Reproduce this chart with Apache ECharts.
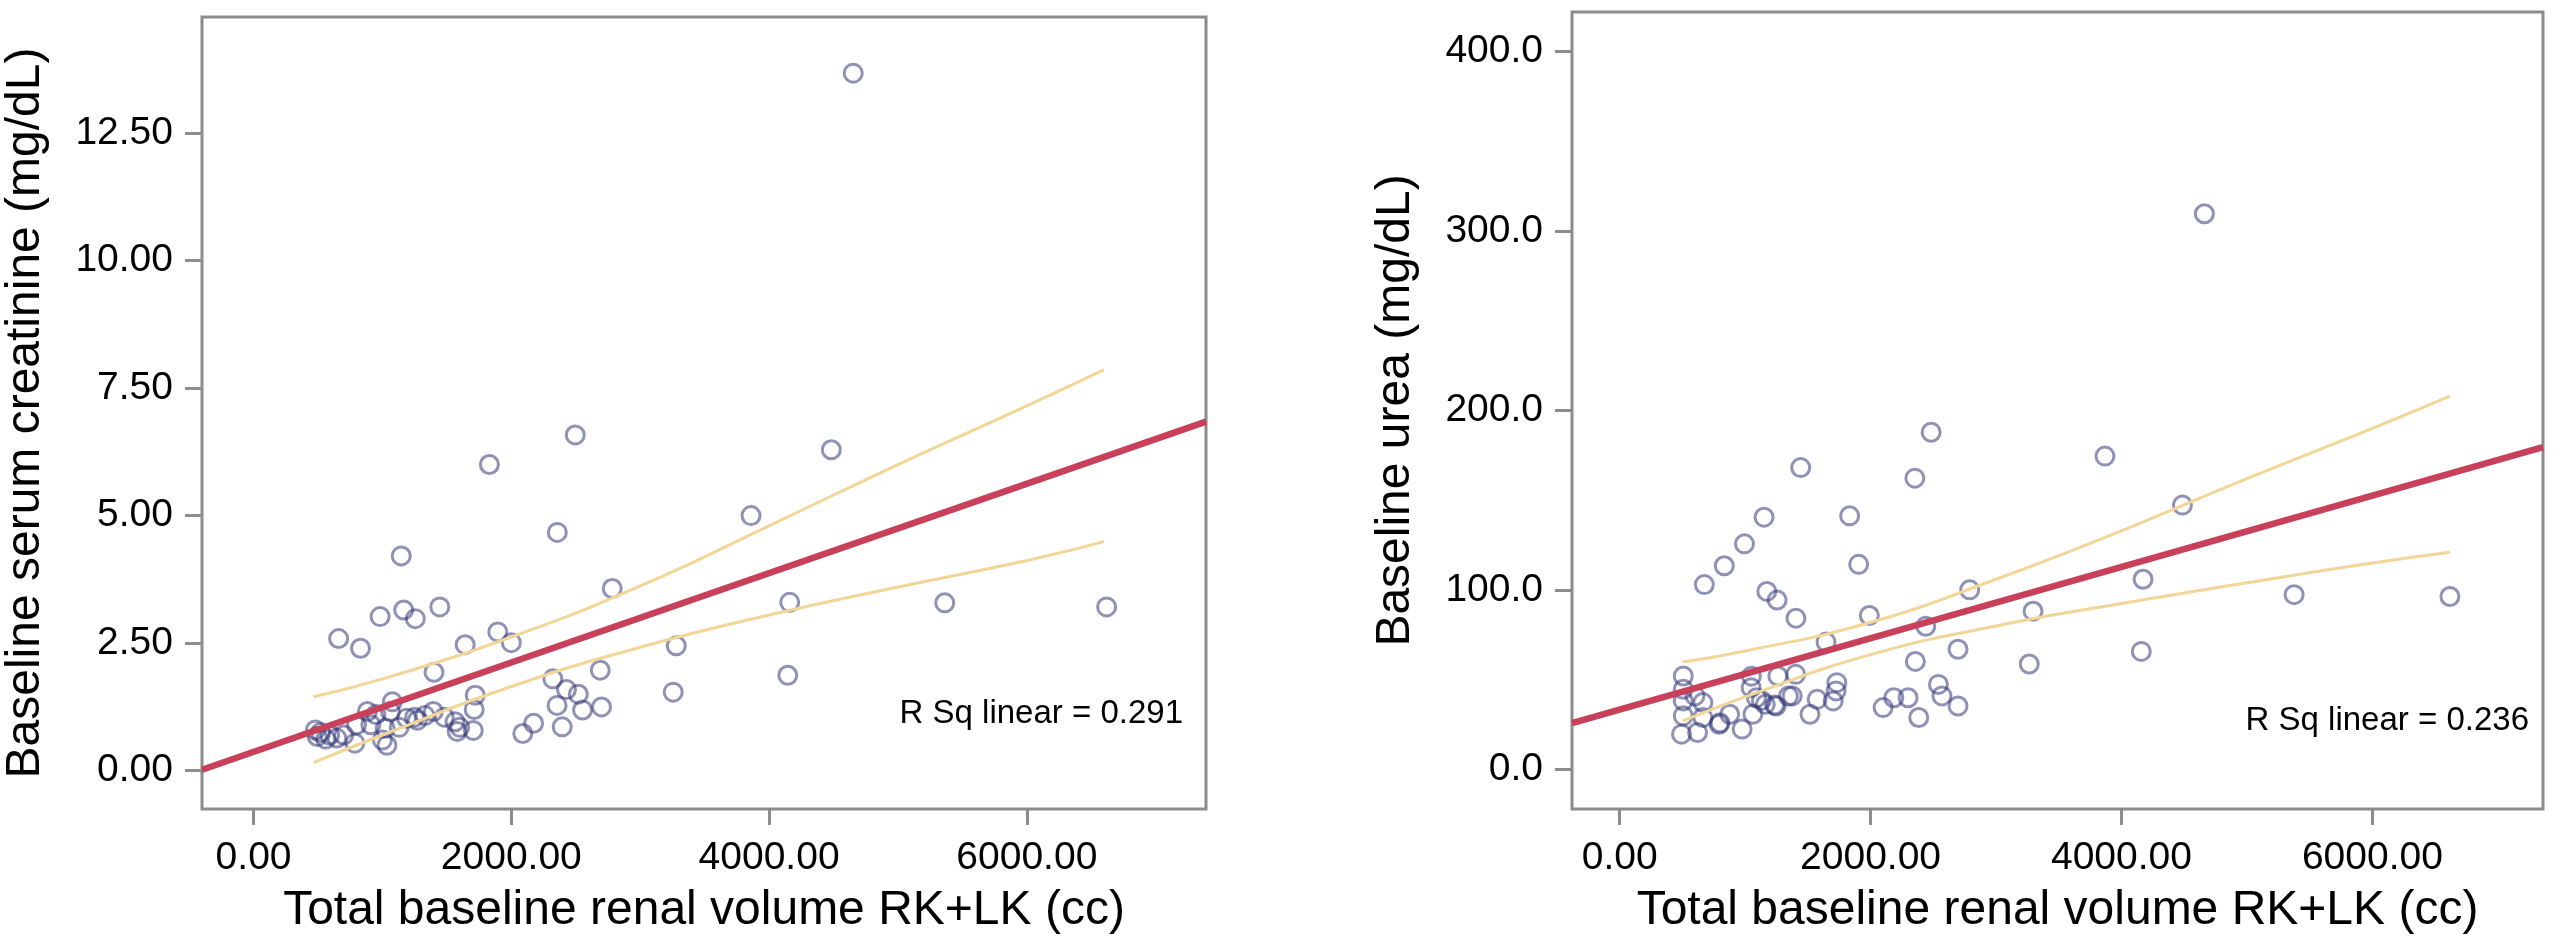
<!DOCTYPE html>
<html><head><meta charset="utf-8">
<script src="https://cdn.jsdelivr.net/npm/echarts@6/dist/echarts.min.js"></script>
<style>html,body{margin:0;padding:0;background:#fff}#c{width:2560px;height:940px}</style>
</head><body><div id="c"></div>
<script>
// ---- data ----
const xTicks = [0, 2000, 4000, 6000];
const creatTicks = [0, 2.5, 5, 7.5, 10, 12.5];
const ureaTicks = [0, 100, 200, 300, 400];

const xTitle = 'Total baseline renal volume RK+LK (cc)';
const creatTitle = 'Baseline serum creatinine (mg/dL)';
const ureaTitle = 'Baseline urea (mg/dL)';
const creatRSq = 'R Sq linear = 0.291';
const ureaRSq = 'R Sq linear = 0.236';

// [total renal volume (cc), serum creatinine (mg/dL)]
const creatPoints = [
  [4653,13.67],[2496,6.58],[1830,6.0],[4483,6.29],[3860,5.0],[2357,4.67],[1146,4.21],[2783,3.57],
  [4160,3.30],[5363,3.29],[6619,3.21],[1445,3.21],[982,3.02],[1165,3.15],[1255,2.98],[660,2.59],
  [830,2.40],[1642,2.47],[1895,2.72],[2000,2.51],[3280,2.45],[1400,1.93],[2690,1.97],[2322,1.80],
  [2428,1.59],[4145,1.87],[3256,1.54],[2520,1.50],[2355,1.28],[2553,1.19],[2700,1.25],[1720,1.48],
  [1712,1.20],[1705,0.79],[1580,0.77],[1563,0.96],[2395,0.86],[2173,0.93],[2089,0.73],[1395,1.16],
  [1271,0.99],[1187,1.03],[1077,1.35],[1062,1.16],[1021,0.83],[1035,0.50],[883,1.16],[910,0.90],
  [799,0.90],[786,0.54],[646,0.64],[494,0.67],[480,0.80],[591,0.70],[520,0.75],[560,0.62],
  [700,0.70],[1000,0.60],[1130,0.85],[1250,1.05],[1330,1.08],[1480,1.05],[1600,0.85],[950,1.10]
];
// [total renal volume (cc), urea (mg/dL)]
const ureaPoints = [
  [4661,309.6],[2483,187.9],[3868,174.6],[1443,168.2],[2353,162.3],[4486,147.3],[1151,140.6],[1833,141.3],
  [995,125.7],[834,113.5],[1905,114.3],[675,103.0],[4172,106.0],[2790,100.1],[1173,99.2],[1255,94.4],
  [5376,97.4],[6618,96.4],[1405,84.3],[1990,85.8],[3295,88.2],[2440,79.8],[1645,71.0],[2697,67.0],
  [4158,65.8],[2357,60.2],[3265,58.8],[507,52.1],[507,44.7],[507,38.2],[507,29.9],[493,19.7],
  [621,20.6],[663,37.3],[663,29.0],[792,25.2],[877,30.8],[976,22.5],[1062,30.8],[1048,45.6],
  [1090,40.0],[1161,36.3],[1261,52.1],[1403,53.0],[1247,35.4],[1375,41.0],[1517,30.8],[1574,39.1],
  [1702,38.2],[1731,48.4],[1725,43.8],[2100,34.5],[2185,40.0],[2299,40.0],[2384,29.0],[2541,47.4],
  [2569,41.0],[2697,35.4],[1050,52.0],[1130,38.5],[1345,40.9],[1235,35.9],[600,41.0],[800,26.0]
];

// fit lines and mean confidence bands
const creatFit = [[-400,0.02],[7390,6.84]];
const creatUpperCI = [[466,1.45],[1000,1.80],[2000,2.62],[3000,3.62],[4000,4.80],[5000,6.0],[6000,7.15],[6600,7.86]];
const creatLowerCI = [[466,0.16],[1000,0.70],[2000,1.65],[3000,2.42],[4000,3.05],[5000,3.60],[6000,4.12],[6600,4.49]];
const ureaFit = [[-380,25.9],[7360,179.6]];
const ureaUpperCI = [[501,59.9],[1000,66],[2000,82],[3000,106],[4000,133],[5000,162],[6000,190],[6618,208]];
const ureaLowerCI = [[501,27],[1000,40.5],[2000,64],[3000,80],[4000,92.5],[5000,104],[6000,115],[6618,121]];

// ---- styling ----
const FONT = "'Liberation Sans', Arial, Helvetica, sans-serif";
const FRAME = '#8c8c8c';
const POINT = 'rgba(48,52,118,0.68)';
const FITC = '#c8405a';
const CIC = '#f2d597';

function xAxisCfg(gridIndex, min, max) {
  return {
    type: 'value', gridIndex, min, max,
    name: xTitle, nameLocation: 'middle', nameGap: 78,
    nameTextStyle: {fontFamily: FONT, fontSize: 48, color: '#000'},
    axisLine: {show: false, onZero: false},
    axisTick: {show: true, length: 16, lineStyle: {color: FRAME, width: 3}, customValues: xTicks},
    axisLabel: {show: true, fontFamily: FONT, fontSize: 39, color: '#000', margin: 30,
      customValues: xTicks, formatter: v => Number(v).toFixed(2)},
    splitLine: {show: false}
  };
}
function yAxisCfg(gridIndex, min, max, ticks, title, dec) {
  return {
    type: 'value', gridIndex, min, max,
    name: title, nameLocation: 'middle', nameGap: 152, nameRotate: 90,
    nameTextStyle: {fontFamily: FONT, fontSize: 48, color: '#000'},
    axisLine: {show: false, onZero: false},
    axisTick: {show: true, length: 17, lineStyle: {color: FRAME, width: 3}, customValues: ticks},
    axisLabel: {show: true, fontFamily: FONT, fontSize: 39, color: '#000', margin: 29,
      customValues: ticks, formatter: v => Number(v).toFixed(dec)},
    splitLine: {show: false}
  };
}
function scatter(i, data) {
  return {type: 'scatter', xAxisIndex: i, yAxisIndex: i, data, symbol: 'circle', symbolSize: 18,
    itemStyle: {color: 'rgba(0,0,0,0)', borderColor: POINT, borderWidth: 3}, z: 3, silent: true};
}
function line(i, data, color, width, smooth, z) {
  return {type: 'line', xAxisIndex: i, yAxisIndex: i, data, showSymbol: false, symbol: 'none',
    smooth, lineStyle: {color, width}, z, silent: true, clip: true};
}

const chart = echarts.init(document.getElementById('c'), null, {renderer: 'canvas'});
chart.setOption({
  backgroundColor: '#fff',
  animation: false,
  grid: [
    {left: 202, top: 17, width: 1004, height: 794, show: true, borderColor: FRAME, borderWidth: 3, backgroundColor: '#fff'},
    {left: 1572, top: 12, width: 971, height: 800, show: true, borderColor: FRAME, borderWidth: 3, backgroundColor: '#fff'}
  ],
  xAxis: [xAxisCfg(0, -400, 7390), xAxisCfg(1, -380, 7360)],
  yAxis: [yAxisCfg(0, -0.75, 14.77, creatTicks, creatTitle, 2), yAxisCfg(1, -22, 422, ureaTicks, ureaTitle, 1)],
  series: [
    scatter(0, creatPoints),
    line(0, creatUpperCI, CIC, 3, true, 4),
    line(0, creatLowerCI, CIC, 3, true, 4),
    line(0, creatFit, FITC, 6.5, false, 5),
    scatter(1, ureaPoints),
    line(1, ureaUpperCI, CIC, 3, true, 4),
    line(1, ureaLowerCI, CIC, 3, true, 4),
    line(1, ureaFit, FITC, 6.5, false, 5)
  ],
  graphic: [
    {type: 'text', right: 2560 - 1183, top: 697, style: {text: creatRSq, font: '33px ' + FONT, fill: '#000'}},
    {type: 'text', right: 2560 - 2529, top: 704, style: {text: ureaRSq, font: '33px ' + FONT, fill: '#000'}}
  ]
});
</script>
</body></html>
